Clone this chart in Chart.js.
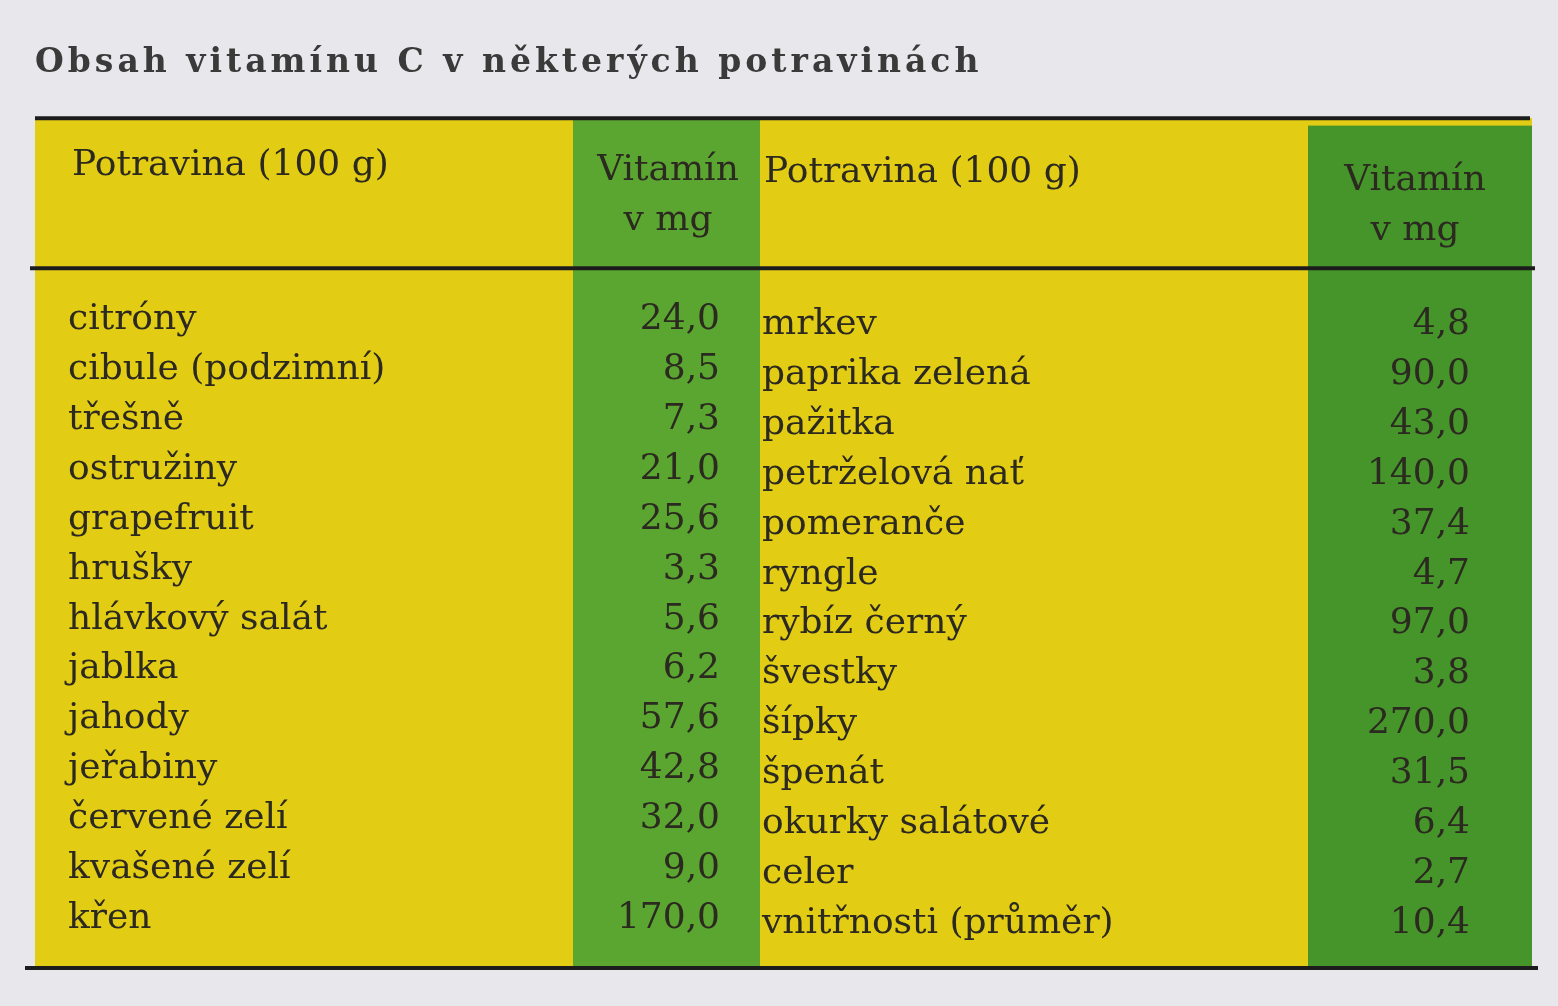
<!DOCTYPE html>
<html>
<head>
<meta charset="utf-8">
<script src="https://cdn.jsdelivr.net/npm/chart.js@4.4.1/dist/chart.umd.min.js"></script>
<style>
html, body { margin: 0; padding: 0; background: #e8e8ec; }
#wrap { width: 1558px; height: 1006px; }
</style>
</head>
<body>
<div id="wrap"><canvas id="tableChart"></canvas></div>
<script>
const title = "Obsah vitamínu C v některých potravinách";
const headerFood = "Potravina (100 g)";
const headerValue = ["Vitamín", "v mg"];

const foodsLeft = ["citróny", "cibule (podzimní)", "třešně", "ostružiny", "grapefruit", "hrušky",
    "hlávkový salát", "jablka", "jahody", "jeřabiny", "červené zelí", "kvašené zelí", "křen"];
const valuesLeft = [24.0, 8.5, 7.3, 21.0, 25.6, 3.3, 5.6, 6.2, 57.6, 42.8, 32.0, 9.0, 170.0];

const foodsRight = ["mrkev", "paprika zelená", "pažitka", "petrželová nať", "pomeranče", "ryngle",
    "rybíz černý", "švestky", "šípky", "špenát", "okurky salátové", "celer", "vnitřnosti (průměr)"];
const valuesRight = [4.8, 90.0, 43.0, 140.0, 37.4, 4.7, 97.0, 3.8, 270.0, 31.5, 6.4, 2.7, 10.4];

const FONT = "36px 'DejaVu Serif', 'Liberation Serif', serif";
const INK = "#2b2920";

const fmt = v => v.toFixed(1).replace(".", ",");

const tablePlugin = {
    id: "tablePlugin",
    beforeDatasetsDraw(chart) {
        const { ctx, scales: { x, y } } = chart;
        const px = v => x.getPixelForValue(v);
        const py = v => y.getPixelForValue(v);
        ctx.save();
        // yellow body
        ctx.fillStyle = "#e3cc14";
        ctx.fillRect(px(35), py(-4.05), px(1532) - px(35), py(13.0) - py(-4.05));
        // green value columns
        ctx.fillStyle = "#5aa630";
        ctx.fillRect(px(573), py(-4.05), px(760) - px(573), py(13.0) - py(-4.05));
        ctx.fillStyle = "#45952a";
        ctx.fillRect(px(1308), py(-3.9), px(1532) - px(1308), py(13.0) - py(-3.9));
        // rules
        ctx.strokeStyle = "#1c1c1c";
        ctx.lineWidth = 4;
        [[35, 1530, -4.05], [30, 1535, -1.04], [25, 1538, 13.0]].forEach(([a, b, r]) => {
            ctx.beginPath();
            ctx.moveTo(px(a), py(r));
            ctx.lineTo(px(b), py(r));
            ctx.stroke();
        });
        // title and headers
        ctx.fillStyle = "#3a3a3a";
        ctx.font = "bold 33px 'DejaVu Serif', 'Liberation Serif', serif";
        ctx.letterSpacing = "4px";
        ctx.textBaseline = "middle";
        ctx.textAlign = "left";
        ctx.fillText(title, px(35), py(-5.15));
        ctx.letterSpacing = "0px";
        ctx.fillStyle = INK;
        ctx.font = FONT;
        ctx.fillText(headerFood, px(72), py(-3.1));
        ctx.fillText(headerFood, px(764), py(-2.95));
        ctx.textAlign = "center";
        ctx.fillText(headerValue[0], px(668), py(-3.0));
        ctx.fillText(headerValue[1], px(668), py(-2.0));
        ctx.fillText(headerValue[0], px(1415), py(-2.8));
        ctx.fillText(headerValue[1], px(1415), py(-1.8));
        ctx.restore();
    },
    afterDatasetsDraw(chart) {
        const { ctx } = chart;
        ctx.save();
        ctx.fillStyle = INK;
        ctx.font = FONT;
        ctx.textBaseline = "middle";
        chart.data.datasets.forEach((ds, di) => {
            const meta = chart.getDatasetMeta(di);
            ctx.textAlign = ds.align;
            meta.data.forEach((pt, i) => {
                ctx.fillText(ds.texts[i], pt.x, pt.y);
            });
        });
        ctx.restore();
    }
};

const rows = foodsLeft.map((_, i) => i);

new Chart(document.getElementById("tableChart"), {
    type: "scatter",
    data: {
        datasets: [
            { texts: foodsLeft, align: "left", data: rows.map(i => ({ x: 68, y: i })) },
            { texts: valuesLeft.map(fmt), align: "right", data: rows.map(i => ({ x: 720, y: i })) },
            { texts: foodsRight, align: "left", data: rows.map(i => ({ x: 762, y: i + 0.1 })) },
            { texts: valuesRight.map(fmt), align: "right", data: rows.map(i => ({ x: 1470, y: i + 0.1 })) }
        ]
    },
    options: {
        responsive: true,
        maintainAspectRatio: false,
        animation: false,
        layout: { padding: 0 },
        elements: { point: { radius: 0, hoverRadius: 0 } },
        plugins: { legend: { display: false }, tooltip: { enabled: false } },
        scales: {
            x: { type: "linear", min: 0, max: 1558, display: false },
            y: { type: "linear", min: -6.42, max: 13.76, reverse: true, display: false }
        }
    },
    plugins: [tablePlugin]
});
</script>
</body>
</html>
